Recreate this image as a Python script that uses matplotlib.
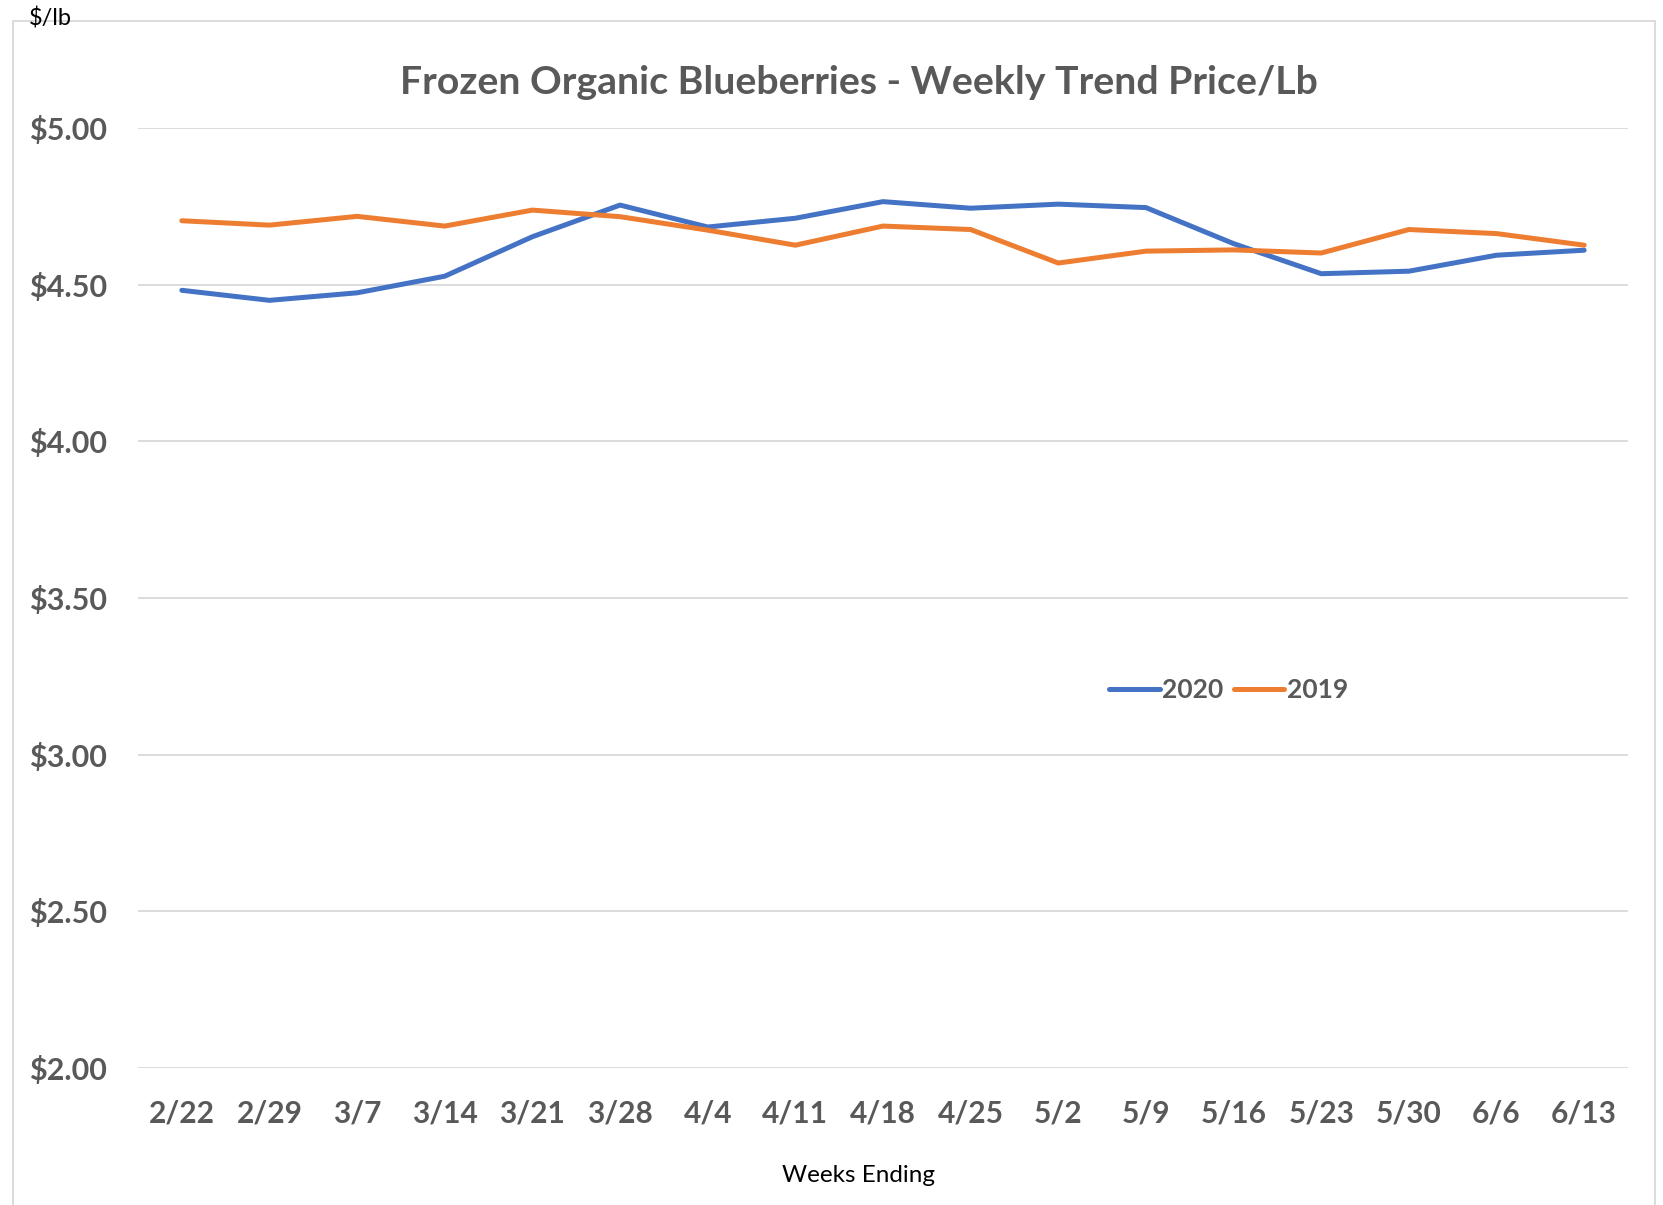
import matplotlib
matplotlib.use("Agg")
import matplotlib.pyplot as plt
from matplotlib.patches import Rectangle

weeks = ["2/22", "2/29", "3/7", "3/14", "3/21", "3/28", "4/4", "4/11", "4/18",
         "4/25", "5/2", "5/9", "5/16", "5/23", "5/30", "6/6", "6/13"]
price_2020 = [4.482, 4.450, 4.474, 4.527, 4.653, 4.754, 4.684, 4.712, 4.765,
              4.744, 4.757, 4.746, 4.631, 4.535, 4.543, 4.594, 4.610]
price_2019 = [4.704, 4.690, 4.718, 4.687, 4.738, 4.717, 4.674, 4.626, 4.687,
              4.676, 4.569, 4.607, 4.611, 4.601, 4.676, 4.663, 4.626]
y_ticks = [2.0, 2.5, 3.0, 3.5, 4.0, 4.5, 5.0]
y_labels = ["$2.00", "$2.50", "$3.00", "$3.50", "$4.00", "$4.50", "$5.00"]

W, H = 1663, 1205
fig = plt.figure(figsize=(W / 100, H / 100), dpi=100)
FONT = ["Lato", "DejaVu Sans"]
GRAY = "#595959"

# outer chart border
fig.patches.append(Rectangle((13 / W, -0.01), (1655 - 13) / W, 1 - 21 / H + 0.01,
                             transform=fig.transFigure, fill=False,
                             edgecolor="#D9D9D9", linewidth=1.3, zorder=0))

ax = fig.add_axes([138 / W, 1 - 1068 / H, (1628 - 138) / W, (1068 - 128) / H])
x = list(range(len(weeks)))
ax.plot(x, price_2020, color="#4472C4", linewidth=3.6, label="2020",
        solid_capstyle="round", solid_joinstyle="round", zorder=3)
ax.plot(x, price_2019, color="#ED7D31", linewidth=3.6, label="2019",
        solid_capstyle="round", solid_joinstyle="round", zorder=3)

ax.set_xlim(-0.5, len(weeks) - 0.5)
ax.set_ylim(2.0, 5.0)
ax.set_yticks(y_ticks)
ax.set_yticklabels(y_labels, fontsize=22, fontweight="bold", color=GRAY, family=FONT)
ax.set_xticks(x)
ax.set_xticklabels(weeks, fontsize=21.5, fontweight="bold", color=GRAY, family=FONT)
ax.tick_params(axis="both", length=0)
ax.tick_params(axis="x", pad=23)
for lbl in ax.get_yticklabels():
    lbl.set_horizontalalignment("left")
ax.yaxis.set_tick_params(pad=(138 - 29) * 72 / 100)
ax.grid(axis="y", color="#D9D9D9", linewidth=1.3, zorder=0)
for s in ax.spines.values():
    s.set_visible(False)

leg = ax.legend(loc="center", bbox_to_anchor=(0.732, 0.402), ncol=2, frameon=False,
                handlelength=1.9, handletextpad=0.1, columnspacing=0.4,
                prop={"family": FONT, "size": 19, "weight": "bold"})
for t in leg.get_texts():
    t.set_color(GRAY)

fig.text(859 / W, 1 - 82 / H, "Frozen Organic Blueberries - Weekly Trend Price/Lb",
         ha="center", va="center", fontsize=28.3, fontweight="bold", color=GRAY, family=FONT)
fig.text(859 / W, 1 - 1175 / H, "Weeks Ending", ha="center", va="center",
         fontsize=17.5, color="black", family=FONT)
fig.text(29 / W, 1 - 18 / H, "$/lb", ha="left", va="center",
         fontsize=17, color="black", family=FONT)

fig.savefig("out.png", dpi=100, facecolor="white")
